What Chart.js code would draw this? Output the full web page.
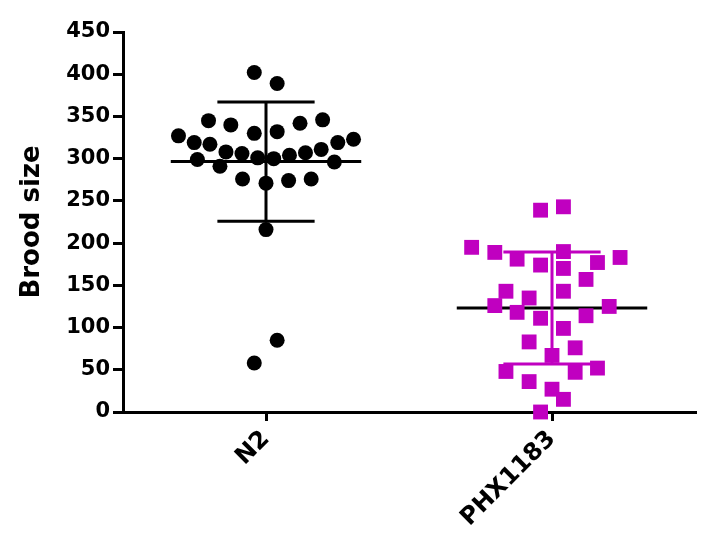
<!DOCTYPE html>
<html>
<head>
<meta charset="utf-8">
<script src="https://cdn.jsdelivr.net/npm/chart.js@4.4.0/dist/chart.umd.min.js"></script>
<style>
  html, body { margin: 0; padding: 0; background: #fff; }
  #wrap { width: 709px; height: 547px; }
</style>
</head>
<body>
<div id="wrap"><canvas id="chart" width="709" height="547"></canvas></div>
<script>
// groups on the x axis
const groups = ["N2", "PHX1183"];

// N2: horizontal scatter offset (fraction of a group) and brood size
const n2Offset = [-0.041, 0.039, -0.201, -0.123, -0.041, 0.039, 0.119, 0.198, -0.306, -0.251,
  -0.196, -0.140, -0.084, -0.029, 0.027, 0.082, 0.138, 0.193, 0.251, 0.306,
  -0.240, -0.161, 0.239, -0.082, 0, 0.079, 0.158, 0, -0.041, 0.039];
const n2Brood = [402, 389, 345, 340, 330, 332, 342, 346, 327, 319,
  317, 308, 306, 301, 300, 304, 307, 311, 319, 323,
  299, 291, 296, 276, 271, 274, 276, 216, 58, 85];

// PHX1183
const phxOffset = [-0.040, 0.040, -0.281, -0.200, -0.122, -0.040, 0.040, 0.040, 0.159, 0.238,
  0.119, -0.161, -0.080, 0.040, -0.200, -0.122, -0.040, 0.119, 0.200, 0.040,
  -0.080, 0.081, 0, -0.161, 0.081, 0.159, -0.080, 0, 0.040, -0.040];
const phxBrood = [239, 243, 195, 189, 181, 174, 190, 170, 177, 183,
  157, 143, 135, 143, 126, 118, 111, 114, 125, 99,
  83, 76, 67, 48, 47, 52, 36, 27, 15, 0];

// mean and SD per group
const groupMean = [296.5, 123.2];
const groupSD = [70.7, 66.3];

const yTicks = [0, 50, 100, 150, 200, 250, 300, 350, 400, 450];

const MAGENTA = "#C000C0";
const FONT = "'DejaVu Sans', sans-serif";
const meanHalf = 0.333;
const capHalf = 0.17;

const toPoints = (offs, vals, g) => vals.map((v, i) => ({ x: g + offs[i], y: v }));

const errorBar = (g) => {
  const lo = groupMean[g] - groupSD[g];
  const hi = groupMean[g] + groupSD[g];
  return [
    { x: g - capHalf, y: hi }, { x: g + capHalf, y: hi }, { x: g, y: null },
    { x: g, y: hi }, { x: g, y: lo }, { x: g, y: null },
    { x: g - capHalf, y: lo }, { x: g + capHalf, y: lo }
  ];
};

const meanLine = (g) => [
  { x: g - meanHalf, y: groupMean[g] },
  { x: g + meanHalf, y: groupMean[g] }
];

const lineSet = (data, color) => ({
  data,
  showLine: true,
  borderColor: color,
  borderWidth: 3,
  pointRadius: 0,
  spanGaps: false,
  clip: false
});

new Chart(document.getElementById("chart"), {
  type: "scatter",
  data: {
    datasets: [
      {
        data: toPoints(n2Offset, n2Brood, 0),
        pointStyle: "circle",
        pointRadius: 7.5,
        backgroundColor: "#000",
        borderWidth: 0,
        clip: false
      },
      {
        data: toPoints(phxOffset, phxBrood, 1),
        pointStyle: "rect",
        pointRadius: 10.5,
        backgroundColor: MAGENTA,
        borderWidth: 0,
        clip: false
      },
      lineSet(errorBar(0), "#000"),
      lineSet(errorBar(1), MAGENTA),
      lineSet(meanLine(0), "#000"),
      lineSet(meanLine(1), "#000")
    ]
  },
  options: {
    responsive: false,
    animation: false,
    events: [],
    layout: { padding: { top: 32, right: 14, left: 0, bottom: 0 } },
    plugins: { legend: { display: false }, tooltip: { enabled: false } },
    scales: {
      x: {
        type: "linear",
        min: -0.5,
        max: 1.5,
        afterBuildTicks: (s) => { s.ticks = groups.map((_, i) => ({ value: i })); },
        afterFit: (s) => { s.height = 135; },
        border: { display: true, color: "#000", width: 3 },
        grid: { display: true, drawOnChartArea: false, drawTicks: true, tickLength: 9, color: "#000", lineWidth: 3 },
        ticks: {
          minRotation: 45,
          maxRotation: 45,
          padding: 4,
          color: "#000",
          font: { family: FONT, size: 24, weight: "bold" },
          callback: (v) => groups[v]
        }
      },
      y: {
        min: 0,
        max: 450,
        afterBuildTicks: (s) => { s.ticks = yTicks.map((v) => ({ value: v })); },
        afterFit: (s) => { s.width = 123; },
        border: { display: true, color: "#000", width: 3 },
        grid: { display: true, drawOnChartArea: false, drawTicks: true, tickLength: 10, color: "#000", lineWidth: 3 },
        ticks: {
          padding: 3,
          color: "#000",
          font: { family: FONT, size: 21, weight: "bold" }
        },
        title: {
          display: true,
          text: "Brood size",
          color: "#000",
          padding: { top: 17, bottom: 0 },
          font: { family: FONT, size: 26, weight: "bold" }
        }
      }
    }
  }
});
</script>
</body>
</html>
